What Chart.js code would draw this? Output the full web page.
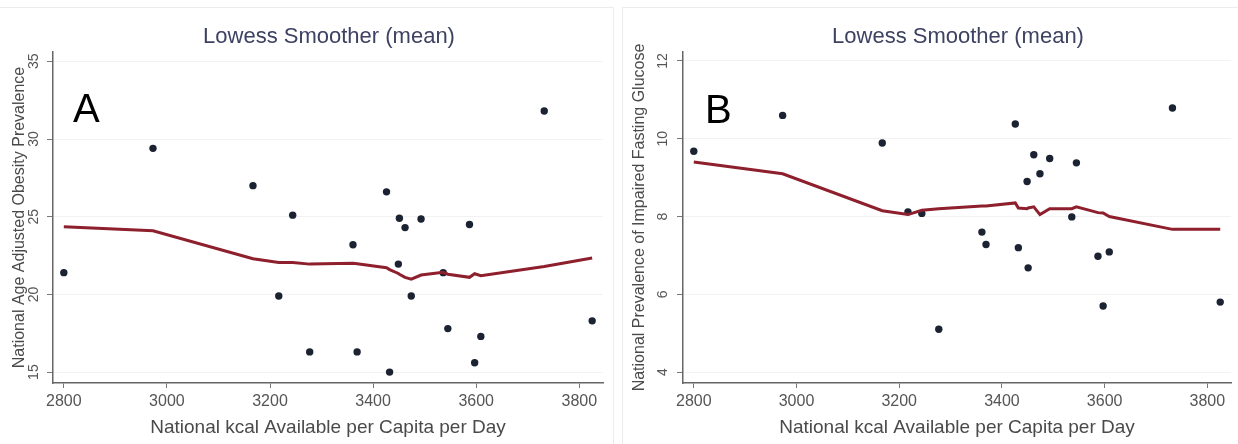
<!DOCTYPE html>
<html><head><meta charset="utf-8">
<script src="https://cdn.jsdelivr.net/npm/chart.js@4.4.1/dist/chart.umd.min.js"></script>
<style>
html,body{margin:0;padding:0;background:#fff;}
#wrap{position:relative;width:1238px;height:444px;overflow:hidden;background:#fff;}
canvas{position:absolute;top:0;}
#c1{left:0}
#c2{left:619px}
.frame{position:absolute;border:0 solid #ececec;box-sizing:border-box;}
</style></head><body>
<div id="wrap">
<div class="frame" style="left:0;top:7px;width:614px;height:437px;border-top-width:1px;border-right-width:1px;"></div>
<div class="frame" style="left:622px;top:7px;width:616px;height:437px;border-top-width:1px;border-left-width:1px;"></div>
<canvas id="c1" width="619" height="444"></canvas>
<canvas id="c2" width="619" height="444"></canvas>
</div>
<script>
// ---- data ----
const kcal = [2800,2973,3167,3217,3244,3277,3361,3369,3426,3432,3449,3451,3462,3474,3493,3536,3545,3587,3597,3609,3732,3825];
const obesity = [21.4,29.4,27.0,19.9,25.1,16.3,23.2,16.3,26.6,15.0,21.95,24.9,24.3,19.9,24.85,21.4,17.8,24.5,15.6,17.3,31.8,18.3];
const lowessObesity = [24.35,24.1,22.3,22.05,22.05,21.95,22.0,21.98,21.72,21.6,21.35,21.3,21.1,20.98,21.25,21.42,21.3,21.1,21.33,21.2,21.8,22.35];
const ifg = [9.68,10.6,9.89,8.12,8.08,5.1,7.6,7.28,10.38,7.2,8.9,6.68,9.59,9.1,9.49,7.99,9.38,6.98,5.7,7.09,10.79,5.8];
const lowessIfg = [9.4,9.1,8.15,8.05,8.16,8.2,8.27,8.27,8.35,8.22,8.2,8.22,8.25,8.05,8.2,8.2,8.25,8.1,8.09,8.0,7.67,7.67];
const xTicks = [2800,3000,3200,3400,3600,3800];
const yTicksA = [15,20,25,30,35];
const yTicksB = [4,6,8,10,12];
const chartTitle = 'Lowess Smoother (mean)';
const xTitle = 'National kcal Available per Capita per Day';
const yTitleA = 'National Age Adjusted Obesity Prevalence';
const yTitleB = 'National Prevalence of Impaired Fasting Glucose';

const FAMILY = "'Liberation Sans', Arial, Helvetica, sans-serif";

function makeChart(id, cfg) {
  const pts = kcal.map((x, i) => ({x, y: cfg.values[i]}));
  const fit = kcal.map((x, i) => ({x, y: cfg.smooth[i]}));
  const deco = {
    id: 'deco',
    afterDraw(chart) {
      const ctx = chart.ctx;
      const ca = chart.chartArea;
      const ys = chart.scales.y;
      ctx.save();
      // title
      ctx.fillStyle = '#3d4262';
      ctx.font = '22px ' + FAMILY;
      ctx.textAlign = 'center';
      ctx.textBaseline = 'middle';
      ctx.fillText(chartTitle, (ca.left + ca.right) / 2 + 1, 37);
      // rotated y tick labels
      ctx.fillStyle = '#555';
      ctx.font = '14px ' + FAMILY;
      cfg.yTicks.forEach(v => {
        const py = ys.getPixelForValue(v);
        ctx.save();
        ctx.translate(cfg.yTickX, py);
        ctx.rotate(-Math.PI / 2);
        ctx.textAlign = 'center';
        ctx.textBaseline = 'middle';
        ctx.fillText(String(v), 0, 0);
        ctx.restore();
      });
      // panel letter
      ctx.fillStyle = '#000';
      ctx.font = '40px ' + FAMILY;
      ctx.textAlign = 'left';
      ctx.textBaseline = 'alphabetic';
      ctx.fillText(cfg.letter, cfg.letterX, cfg.letterY);
      ctx.restore();
    }
  };
  return new Chart(document.getElementById(id), {
    type: 'scatter',
    data: {
      datasets: [
        {type: 'line', data: fit, showLine: true, borderColor: '#8e1f2d', borderWidth: 3,
         pointRadius: 0, tension: 0, fill: false, order: 0},
        {type: 'scatter', data: pts, pointRadius: 3.7, pointBackgroundColor: '#1b2232',
         pointBorderWidth: 0, order: 1}
      ]
    },
    options: {
      responsive: false,
      animation: false,
      layout: {padding: {top: 52, right: cfg.padRight, left: 0, bottom: 0}},
      plugins: {legend: {display: false}, tooltip: {enabled: false}, title: {display: false}},
      scales: {
        x: {
          type: 'linear', min: 2779, max: 3846,
          afterBuildTicks: s => { s.ticks = xTicks.map(v => ({value: v})); },
          afterFit: s => { s.height = 61; },
          grid: {drawOnChartArea: false, drawTicks: true, tickLength: 5, tickColor: '#777', tickWidth: 1},
          border: {display: true, color: '#666', width: 1.5},
          ticks: {color: '#555', font: {family: FAMILY, size: 16}, padding: 4, maxRotation: 0,
                  minRotation: 0, autoSkip: false, callback: v => String(v)},
          title: {display: true, text: xTitle, color: '#4a4a4a', font: {family: FAMILY, size: 19},
                  padding: {top: 0, bottom: 5}}
        },
        y: {
          type: 'linear', min: cfg.yMin, max: cfg.yMax,
          afterBuildTicks: s => { s.ticks = cfg.yTicks.map(v => ({value: v})); },
          afterFit: s => { s.width = cfg.yAxisWidth; },
          grid: {color: 'rgba(0,0,0,0.05)', lineWidth: 1, drawTicks: true, tickLength: 6,
                 tickColor: '#777', tickWidth: 1},
          border: {display: true, color: '#666', width: 1.5},
          ticks: {display: false},
          title: {display: true, text: cfg.yTitle, color: '#4a4a4a', font: {family: FAMILY, size: 16},
                  padding: {top: cfg.yTitlePad, bottom: 0}}
        }
      }
    },
    plugins: [deco]
  });
}

makeChart('c1', {values: obesity, smooth: lowessObesity, yMin: 14.3, yMax: 35.6, yTicks: yTicksA,
  yTitle: yTitleA, letter: 'A', letterX: 73, letterY: 122, yAxisWidth: 53, padRight: 16,
  yTitlePad: 10, yTickX: 34});
makeChart('c2', {values: ifg, smooth: lowessIfg, yMin: 3.72, yMax: 12.23, yTicks: yTicksB,
  yTitle: yTitleB, letter: 'B', letterX: 86, letterY: 123, yAxisWidth: 64, padRight: 7,
  yTitlePad: 11, yTickX: 44});
</script>
</body></html>
